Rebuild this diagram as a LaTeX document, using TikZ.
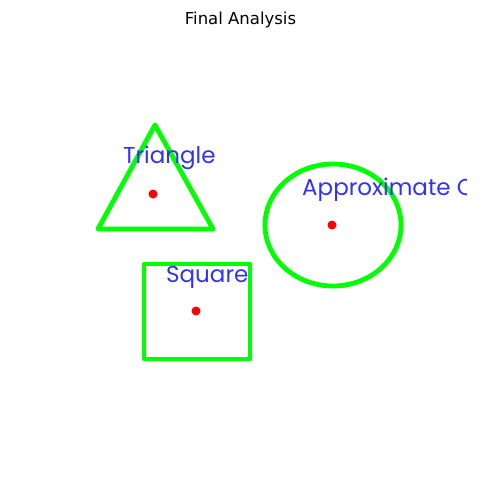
\documentclass[tikz,border=0pt]{standalone}
\usepackage{fontspec}
\setmainfont{DejaVu Sans}
\newfontfamily\labelfont{Poppins}
\usepackage{tikz}
\usetikzlibrary{positioning}
\definecolor{contour}{RGB}{0,255,0}
\definecolor{lbl}{RGB}{50,50,245}
\definecolor{centre}{RGB}{255,0,0}
\tikzset{
    contournode/.style = {draw=contour, line width=4.8pt, line join=round},
    dotnode/.style = {fill=centre, circle, inner sep=0pt, minimum size=9pt},
    labelnode/.style = {text=lbl, inner sep=0pt, anchor=base west,
      font=\labelfont\fontsize{23}{23}\selectfont},
    titlenode/.style = {inner sep=0pt, anchor=base, font=\fontsize{16.5}{16.5}\selectfont}
}

\begin{document}
\begin{tikzpicture}[x=1pt, y=-1pt]
    \useasboundingbox (0,0) rectangle (481,504);
    \node[titlenode, name=Title] at (240.5,24) {Final Analysis};

    % triangle
    \coordinate (TriTop) at (155,125);
    \coordinate (TriLeft) at (98,229);
    \coordinate (TriRight) at (213,229);
    \draw[contournode] (TriTop) -- (TriLeft) -- (TriRight) -- cycle;
    \node[dotnode, name=TriCentre] at (153,194) {};
    \node[labelnode, name=TriLabel] at (123,163) {Triangle};

    % circle
    \coordinate (CircCentre) at (333,225);
    \draw[contournode] (CircCentre) ellipse [x radius=68pt, y radius=61pt];
    \node[dotnode, name=CircDot] at (332,225) {};
    \begin{scope}
      \clip (0,0) rectangle (466,504);
      \node[labelnode, name=CircLabel] at (302,195) {Approximate C};
    \end{scope}

    % square
    \coordinate (SqTopLeft) at (144,264);
    \coordinate (SqBottomRight) at (250,359);
    \draw[contournode] (SqTopLeft) rectangle (SqBottomRight);
    \node[dotnode, name=SqCentre] at (196,311) {};
    \node[labelnode, name=SqLabel] at (166,282) {Square};
\end{tikzpicture}
\end{document}
